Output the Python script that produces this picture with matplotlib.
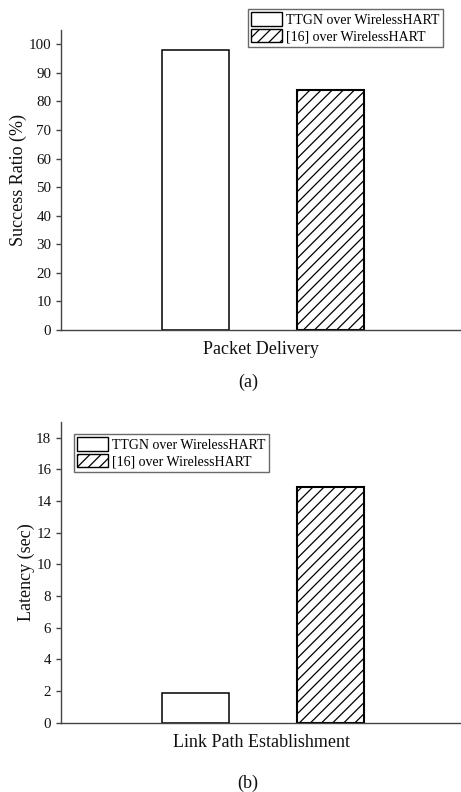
import matplotlib
matplotlib.use("Agg")
import matplotlib.pyplot as plt
from matplotlib.patches import Patch

plt.rcParams['font.family'] = ['Liberation Serif', 'DejaVu Serif']
plt.rcParams['hatch.linewidth'] = 0.9

series = ["TTGN over WirelessHART", "[16] over WirelessHART"]
hatches = ["", "///"]

cat_a = "Packet Delivery"
vals_a = [98, 84]
yticks_a = [0, 10, 20, 30, 40, 50, 60, 70, 80, 90, 100]

cat_b = "Link Path Establishment"
vals_b = [1.9, 14.9]
yticks_b = [0, 2, 4, 6, 8, 10, 12, 14, 16, 18]

W, H = 461, 792
fig = plt.figure(figsize=(W / 100, H / 100), dpi=100)

def make_ax(bottom_px, top_px):
    return fig.add_axes([61 / W, (H - bottom_px) / H, (W - 61) / W, (bottom_px - top_px) / H])

def draw(ax, vals, ylim, yticks, ylabel, xlabel, legend_loc):
    xs = [-0.5, 0.5]
    for x, v, h in zip(xs, vals, hatches):
        ax.bar(x, v, width=0.5, color="white", edgecolor="black",
               linewidth=1.1 if not h else 1.5, hatch=h)
    ax.set_xlim(-1.5, 1.47)
    ax.set_ylim(*ylim)
    ax.set_yticks(yticks)
    ax.set_xticks([])
    for s in ["top", "right"]:
        ax.spines[s].set_visible(False)
    for s in ["left", "bottom"]:
        ax.spines[s].set_color("#444444")
        ax.spines[s].set_linewidth(1.0)
    ax.tick_params(axis="y", direction="out", length=3.5, width=1, color="#444444",
                   labelsize=10.8, labelcolor="#111111", pad=3.5)
    ax.set_ylabel(ylabel, fontsize=13, color="#111111", labelpad=1)
    ax.set_xlabel(xlabel, fontsize=13, color="#111111", labelpad=8)
    handles = [Patch(facecolor="white", edgecolor="black", hatch=h, linewidth=1.0)
               for h in hatches]
    leg = ax.legend(handles, series, fontsize=10, frameon=True, fancybox=False,
                    edgecolor="#444444", handlelength=2.2, handleheight=1.1,
                    handletextpad=0.3, borderpad=0.25, labelspacing=0.15,
                    borderaxespad=0, **legend_loc)
    leg.get_frame().set_linewidth(1.0)

ax1 = make_ax(330, 30)
draw(ax1, vals_a, (0, 105), yticks_a, "Success Ratio (%)", cat_a,
     dict(loc="upper right", bbox_to_anchor=(443 / W, (H - 9) / H),
          bbox_transform=fig.transFigure))
ax2 = make_ax(722.7, 421.7)
draw(ax2, vals_b, (0, 19), yticks_b, "Latency (sec)", cat_b,
     dict(loc="upper left", bbox_to_anchor=(74 / W, (H - 434) / H),
          bbox_transform=fig.transFigure))

fig.text(248 / W, (H - 382) / H, "(a)", ha="center", va="center", fontsize=13, color="#111111")
fig.text(248 / W, (H - 783) / H, "(b)", ha="center", va="center", fontsize=13, color="#111111")

fig.savefig("out.png", dpi=100)
